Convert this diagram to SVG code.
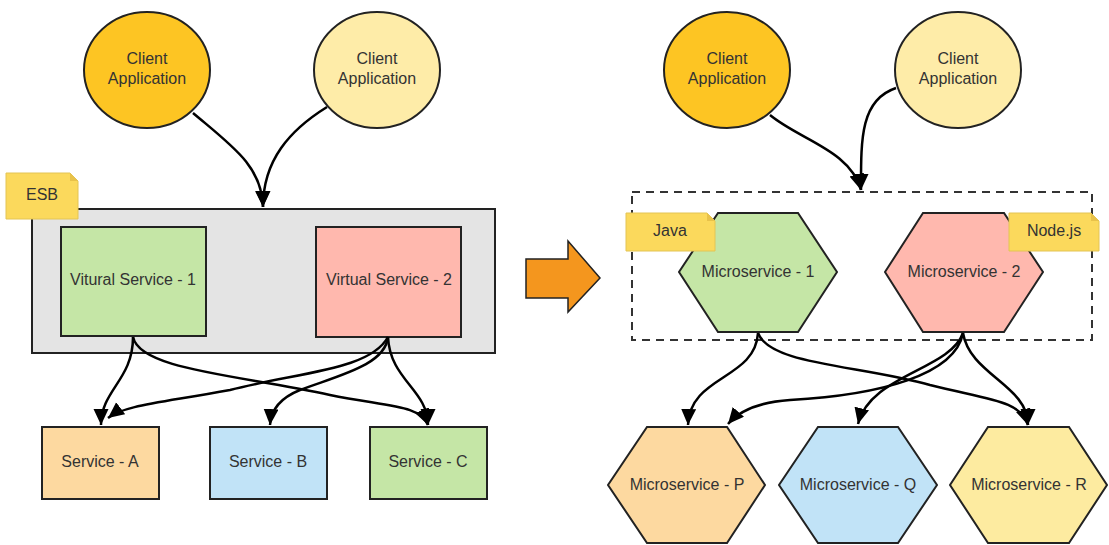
<svg xmlns="http://www.w3.org/2000/svg" width="1109" height="545" viewBox="0 0 1109 545">
<defs>
<marker id="ah" markerUnits="userSpaceOnUse" markerWidth="18" markerHeight="16" refX="16" refY="7.5" orient="auto">
<path d="M0,0 L16,7.5 L0,15 Z" fill="#000"/>
</marker>
<style>
text{font-family:"Liberation Sans",Arial,sans-serif;font-size:16px;fill:#333;text-anchor:middle}
.sh{stroke:#222;stroke-width:2}
.note{fill:#fbd95c;stroke:#e3c455;stroke-width:1}
.fold{fill:#e8c24a}
.conn path{fill:none;stroke:#000;stroke-width:2.5;marker-end:url(#ah)}
</style>
</defs>
<rect width="1109" height="545" fill="#fff"/>

<!-- LEFT -->
<g id="esb">
<rect x="32" y="209" width="463" height="144" fill="#e4e4e4" class="sh"/>
</g>
<g id="client-l1"><ellipse cx="147" cy="70" rx="63" ry="58" fill="#fdc523" class="sh"/><text x="147" y="64">Client</text><text x="147" y="84">Application</text></g>
<g id="client-l2"><ellipse cx="377" cy="70" rx="63" ry="58" fill="#feeca8" class="sh"/><text x="377" y="64">Client</text><text x="377" y="84">Application</text></g>
<g id="esb-note"><path class="note" d="M6,173 H70 L78,181 V219 H6 Z"/><path class="fold" d="M70,173 L78,181 H70 Z"/><text x="42" y="200">ESB</text></g>
<g id="vs1"><rect x="61" y="227" width="145" height="109" fill="#c5e6a6" class="sh"/><text x="133" y="285">Vitural Service - 1</text></g>
<g id="vs2"><rect x="316" y="227" width="145" height="110" fill="#ffb8ae" class="sh"/><text x="389" y="285">Virtual Service - 2</text></g>
<g id="svc-a"><rect x="42" y="427" width="117" height="72" fill="#fdd9a0" class="sh"/><text x="100" y="467">Service - A</text></g>
<g id="svc-b"><rect x="210" y="427" width="117" height="72" fill="#c1e3f7" class="sh"/><text x="268" y="467">Service - B</text></g>
<g id="svc-c"><rect x="370" y="427" width="117" height="72" fill="#c5e6a6" class="sh"/><text x="428" y="467">Service - C</text></g>

<g id="big-arrow"><polygon points="526,259 568,259 568,241 600,278 568,312 568,298 526,298" fill="#f4961e" stroke="#222" stroke-width="1.5"/></g>

<!-- RIGHT -->
<g id="ms-box"><rect x="632" y="192" width="460" height="148" fill="none" stroke="#333" stroke-width="2" stroke-dasharray="8,6"/></g>
<g id="client-r1"><ellipse cx="727" cy="70" rx="63" ry="58" fill="#fdc523" class="sh"/><text x="727" y="64">Client</text><text x="727" y="84">Application</text></g>
<g id="client-r2"><ellipse cx="958" cy="70" rx="63" ry="58" fill="#feeca8" class="sh"/><text x="958" y="64">Client</text><text x="958" y="84">Application</text></g>
<g id="ms1"><polygon points="718,213 798,213 837,272 798,332 718,332 679,272" fill="#c5e6a6" class="sh"/><text x="758" y="277">Microservice - 1</text></g>
<g id="ms2"><polygon points="923,213 1004,213 1043,272 1004,332 923,332 885,272" fill="#ffb8ae" class="sh"/><text x="964" y="277">Microservice - 2</text></g>
<g id="java-note"><path class="note" d="M626,213 H707 L715,221 V251 H626 Z"/><path class="fold" d="M707,213 L715,221 H707 Z"/><text x="670" y="236">Java</text></g>
<g id="node-note"><path class="note" d="M1009,213 H1091 L1099,221 V251 H1009 Z"/><path class="fold" d="M1091,213 L1099,221 H1091 Z"/><text x="1054" y="236">Node.js</text></g>
<g id="ms-p"><polygon points="647,427 727,427 765,485 727,543 647,543 608,485" fill="#fdd9a0" class="sh"/><text x="687" y="490">Microservice - P</text></g>
<g id="ms-q"><polygon points="818,427 898,427 937,485 898,543 818,543 779,485" fill="#c1e3f7" class="sh"/><text x="858" y="490">Microservice - Q</text></g>
<g id="ms-r"><polygon points="988,427 1069,427 1107,485 1069,543 988,543 950,485" fill="#fdeba0" class="sh"/><text x="1029" y="490">Microservice - R</text></g>

<g id="connectors" class="conn">
<path d="M193,113 C232,146 262,166 263,207"/>
<path d="M327,107 C290,130 263,160 263,207"/>
<path d="M133,337 C133,380 101,390 101,425"/>
<path d="M133,337 C140,370 240,375 330,395 C390,407 420,405 428,425"/>
<path d="M388,337 C370,370 300,372 230,390 C160,403 125,405 108,418"/>
<path d="M388,337 C385,365 340,375 300,390 C280,398 271,410 270,425"/>
<path d="M388,337 C390,380 428,390 428,425"/>
<path d="M770,115 C800,140 850,150 861,190"/>
<path d="M896,88 C860,100 861,140 861,190"/>
<path d="M758,333 C755,380 690,375 688,425"/>
<path d="M758,333 C770,365 860,365 930,385 C990,400 1020,400 1028,425"/>
<path d="M963,333 C955,375 880,395 790,400 C760,402 740,410 728,424"/>
<path d="M963,333 C950,370 870,375 858,424"/>
<path d="M963,333 C970,375 1028,385 1028,425"/>
</g>
</svg>
